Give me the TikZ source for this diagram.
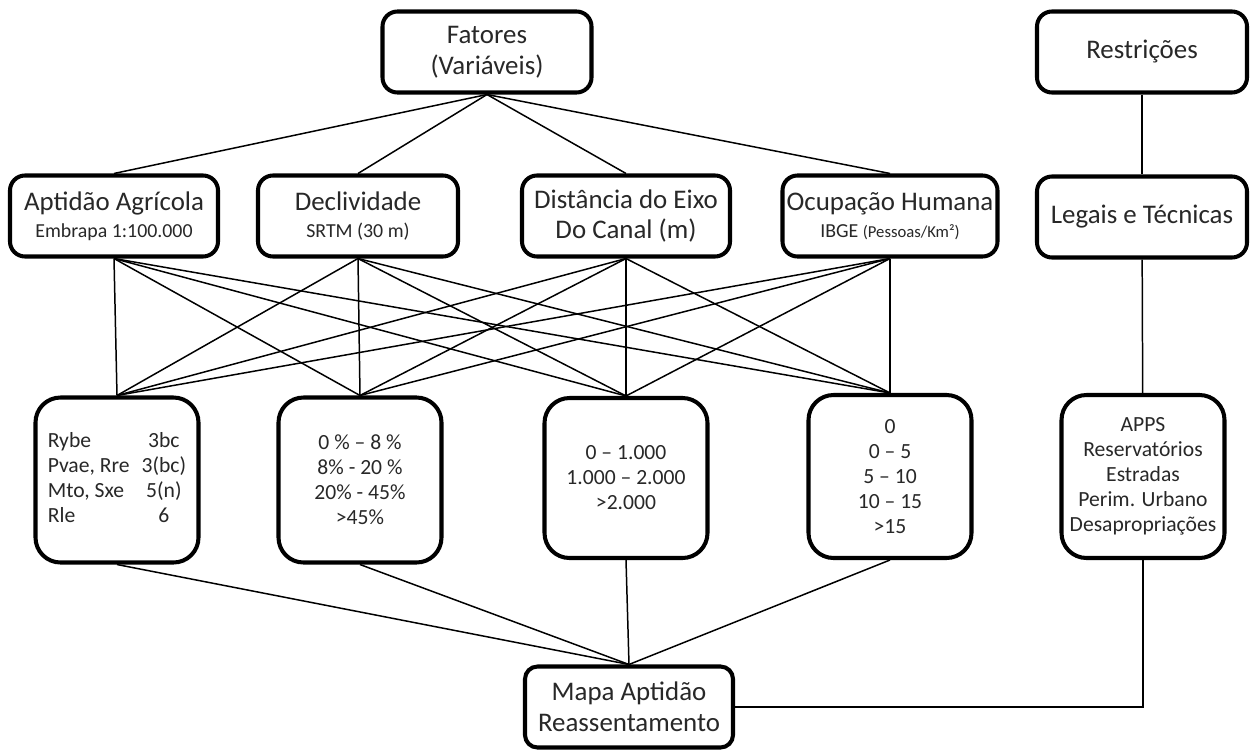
\documentclass[tikz,border=0pt]{standalone}
\usepackage{fontspec}
\setmainfont{Carlito}
\usepackage{tikz}
\usepackage{xcolor}
\definecolor{texto}{RGB}{40,40,40}

\begin{document}
\begin{tikzpicture}[line width=0.85pt,
  grande/.style={draw, line width=2.3pt, rounded corners=0.3cm, fill=white, text=texto, align=center, inner sep=0pt, minimum height=1.62cm, font=\fontsize{15.3}{17.5}\selectfont},
  classe/.style={draw, line width=2.3pt, rounded corners=0.5cm, fill=white, text=texto, align=center, inner sep=0pt, minimum width=3.26cm, font=\fontsize{12.3}{14.2}\selectfont}]
\useasboundingbox (0,0) rectangle (25.06,-14.98);
% fatores
\node[grande, minimum width=4.18cm] (0) at (9.74,-1.04) {Fatores\\(Variáveis)};
\node[grande, minimum width=4.16cm, font=\fontsize{15.3}{15.5}\selectfont] (1) at (2.28,-4.32) {Aptidão Agrícola\\{\fontsize{11.3}{13}\selectfont Embrapa 1:100.000}};
\node[grande, minimum width=4.0cm, font=\fontsize{15.3}{15.5}\selectfont] (2) at (7.16,-4.32) {Declividade\\{\fontsize{11.3}{13}\selectfont SRTM (30 m)}};
\node[grande, minimum width=4.16cm] (3) at (12.52,-4.32) {Distância do Eixo\\Do Canal (m)};
\node[grande, minimum width=4.3cm, font=\fontsize{15.3}{15.5}\selectfont] (4) at (17.8,-4.32) {Ocupação Humana\\{\fontsize{11.3}{13}\selectfont IBGE {\fontsize{9.5}{11}\selectfont(Pessoas/Km²)}}};
% classes
\node[classe, minimum height=3.3cm] (5) at (2.34,-9.6) {\begin{tabular}{@{}l@{\hspace{0.24cm}}c@{}}Rybe & 3bc\\ Pvae, Rre & 3(bc)\\ Mto, Sxe & 5(n)\\ Rle & 6\end{tabular}};
\node[classe, minimum height=3.3cm] (6) at (7.2,-9.6) {0 \% – 8 \%\\8\% - 20 \%\\20\% - 45\%\\>45\%};
\node[classe, minimum height=3.2cm] (7) at (12.52,-9.56) {0 – 1.000\\1.000 – 2.000\\>2.000};
\node[classe, minimum height=3.26cm] (8) at (17.8,-9.53) {0\\0 – 5\\5 – 10\\10 – 15\\>15};
% resultado
\node[grande, minimum width=4.16cm, rounded corners=0.25cm] (9) at (12.58,-14.14) {Mapa Aptidão\\Reassentamento};
% restricoes
\node[grande, minimum width=4.2cm] (10) at (22.84,-1.04) {Restrições};
\node[grande, minimum width=4.2cm] (11) at (22.84,-4.34) {Legais e Técnicas};
\node[classe, minimum height=3.26cm] (12) at (22.86,-9.53) {APPS\\Reservatórios\\Estradas\\Perim. Urbano\\Desapropriações};

\draw [-](0.south)--(1.north);
\draw [-](0.south)--(2.north);
\draw [-](0.south)--(3.north);
\draw [-](0.south)--(4.north);

\draw [-](1.south)--(5.north);
\draw [-](1.south)--(6.north);
\draw [-](1.south)--(7.north);
\draw [-](1.south)--(8.north);
\draw [-](2.south)--(5.north);
\draw [-](2.south)--(6.north);
\draw [-](2.south)--(7.north);
\draw [-](2.south)--(8.north);
\draw [-](3.south)--(5.north);
\draw [-](3.south)--(6.north);
\draw [-](3.south)--(7.north);
\draw [-](3.south)--(8.north);
\draw [-](4.south)--(5.north);
\draw [-](4.south)--(6.north);
\draw [-](4.south)--(7.north);
\draw [-](4.south)--(8.north);

\draw [-](5.south)--(9.north);
\draw [-](6.south)--(9.north);
\draw [-](7.south)--(9.north);
\draw [-](8.south)--(9.north);

\draw [-](10)--(11);
\draw [-](11)--(12);
\draw [-](12.south)|-(9.east);
\end{tikzpicture}
\end{document}
